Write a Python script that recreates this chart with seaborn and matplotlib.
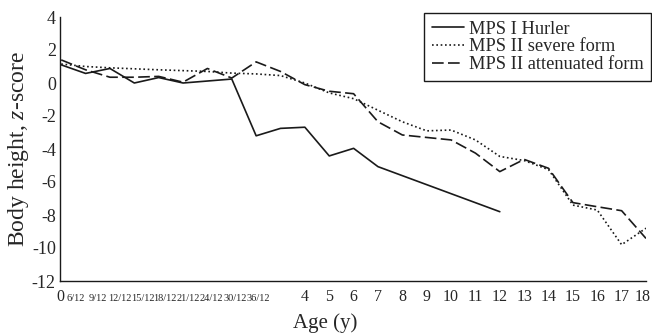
import numpy as np
import pandas as pd
import matplotlib
matplotlib.use("Agg")
import matplotlib.pyplot as plt
import seaborn as sns

# ---- data ----
age_labels = ["0", "6/12", "9/12", "12/12", "15/12", "18/12", "21/12", "24/12",
              "30/12", "36/12", "4", "5", "6", "7", "8", "9", "10", "11", "12",
              "13", "14", "15", "16", "17", "18"]
hurler = [1.1, 0.58, 0.88, 0.0, 0.33, 0.0, 0.12, 0.24, -3.2, -2.75, -2.68,
          -4.42, -3.96, -5.07, None, None, None, None, -7.8,
          None, None, None, None, None, None]
severe = [1.15, 1.0, 0.92, 0.86, 0.8, 0.75, 0.7, 0.6, 0.55, 0.45, 0.0,
          -0.6, -0.95, -1.65, -2.35, -2.9, -2.85, -3.45, -4.45,
          -4.7, -5.25, -7.4, -7.7, -9.8, -8.8]
attenuated = [1.4, 0.8, 0.35, 0.35, 0.4, 0.05, 0.88, 0.3, 1.28, 0.7, -0.1,
              -0.5, -0.65, -2.35, -3.15, -3.3, -3.45, -4.25, -5.37,
              -4.63, -5.17, -7.25, -7.5, -7.74, -9.42]
series_names = ["MPS I Hurler", "MPS II severe form", "MPS II attenuated form"]
y_ticks = [4, 2, 0, -2, -4, -6, -8, -10, -12]

# ---- layout (label positions as drawn in the original figure) ----
label_pos = [-0.05, 0.6, 1.5, 2.42, 3.35, 4.27, 5.22, 6.17, 7.12, 8.1,
             10, 11, 12, 13, 14, 15, 16, 17, 18, 19, 20, 21, 22, 23, 23.85]

sns.set_style("white")
plt.rcParams["font.family"] = ["Liberation Serif", "DejaVu Serif"]
plt.rcParams["mathtext.fontset"] = "custom"
plt.rcParams["mathtext.rm"] = "Liberation Serif"
plt.rcParams["mathtext.it"] = "Liberation Serif:italic"

rows = []
for name, vals in zip(series_names, [hurler, severe, attenuated]):
    for i, v in enumerate(vals):
        if v is not None:
            rows.append({"series": name, "idx": i, "age": age_labels[i], "z": v})
df = pd.DataFrame(rows)

fig = plt.figure(figsize=(6.52, 3.33), dpi=100)
ax = fig.add_axes([60 / 652, 1 - 281 / 333, (646 - 60) / 652, (281 - 17) / 333])

styles = {"MPS I Hurler": dict(linestyle="-"),
          "MPS II severe form": dict(linestyle=(0, (1, 1.6))),
          "MPS II attenuated form": dict(linestyle=(0, (7, 2.6)))}
for name in series_names:
    sub = df[df["series"] == name]
    sns.lineplot(data=sub, x="idx", y="z", ax=ax, color="#1a1a1a", lw=1.2,
                 label=name, sort=True, **styles[name])

ax.set_xlim(0, 24)
ax.set_ylim(-12, 4)
ax.set_yticks(y_ticks)
ax.set_yticklabels([str(t) for t in y_ticks], fontsize=13)
ax.tick_params(axis="y", direction="in", length=5, width=1, pad=3, color="#1a1a1a")

ax.set_xticks(label_pos)
ax.set_xticklabels(age_labels)
ax.set_xticks(list(range(2, 25, 2)), minor=True)
ax.tick_params(axis="x", which="major", length=0, pad=14.5)
ax.tick_params(axis="x", which="minor", direction="in", length=6, width=1, color="#1a1a1a")
for t in ax.get_xticklabels():
    t.set_verticalalignment("baseline")
    if "/" in t.get_text():
        t.set_fontsize(7.5)
    else:
        t.set_fontsize(11.5)

for s in ["top", "right"]:
    ax.spines[s].set_visible(False)
for s in ["left", "bottom"]:
    ax.spines[s].set_color("#1a1a1a")
    ax.spines[s].set_linewidth(1.0)

ax.set_xlabel("Age (y)", fontsize=15)
ax.xaxis.set_label_coords((325 - 60) / 586, -(323 - 281) / 264)
ax.xaxis.label.set_verticalalignment("center")
ax.set_ylabel(r"Body height, $\mathit{z}$-score", fontsize=17)
ax.yaxis.set_label_coords(-(60 - 19) / 586, (281 - 149) / 264)
ax.yaxis.label.set_verticalalignment("center")

leg = ax.legend(loc="upper right", bbox_to_anchor=(651 / 652, 1 - 13 / 333),
                bbox_transform=fig.transFigure, frameon=True, fancybox=False,
                fontsize=13.2, handlelength=1.75, handletextpad=0.27,
                labelspacing=0.04, borderpad=0.42, borderaxespad=0)
leg.get_frame().set_edgecolor("#1a1a1a")
leg.get_frame().set_linewidth(1.0)
leg.get_frame().set_alpha(1)

fig.savefig("out.png", dpi=100)
